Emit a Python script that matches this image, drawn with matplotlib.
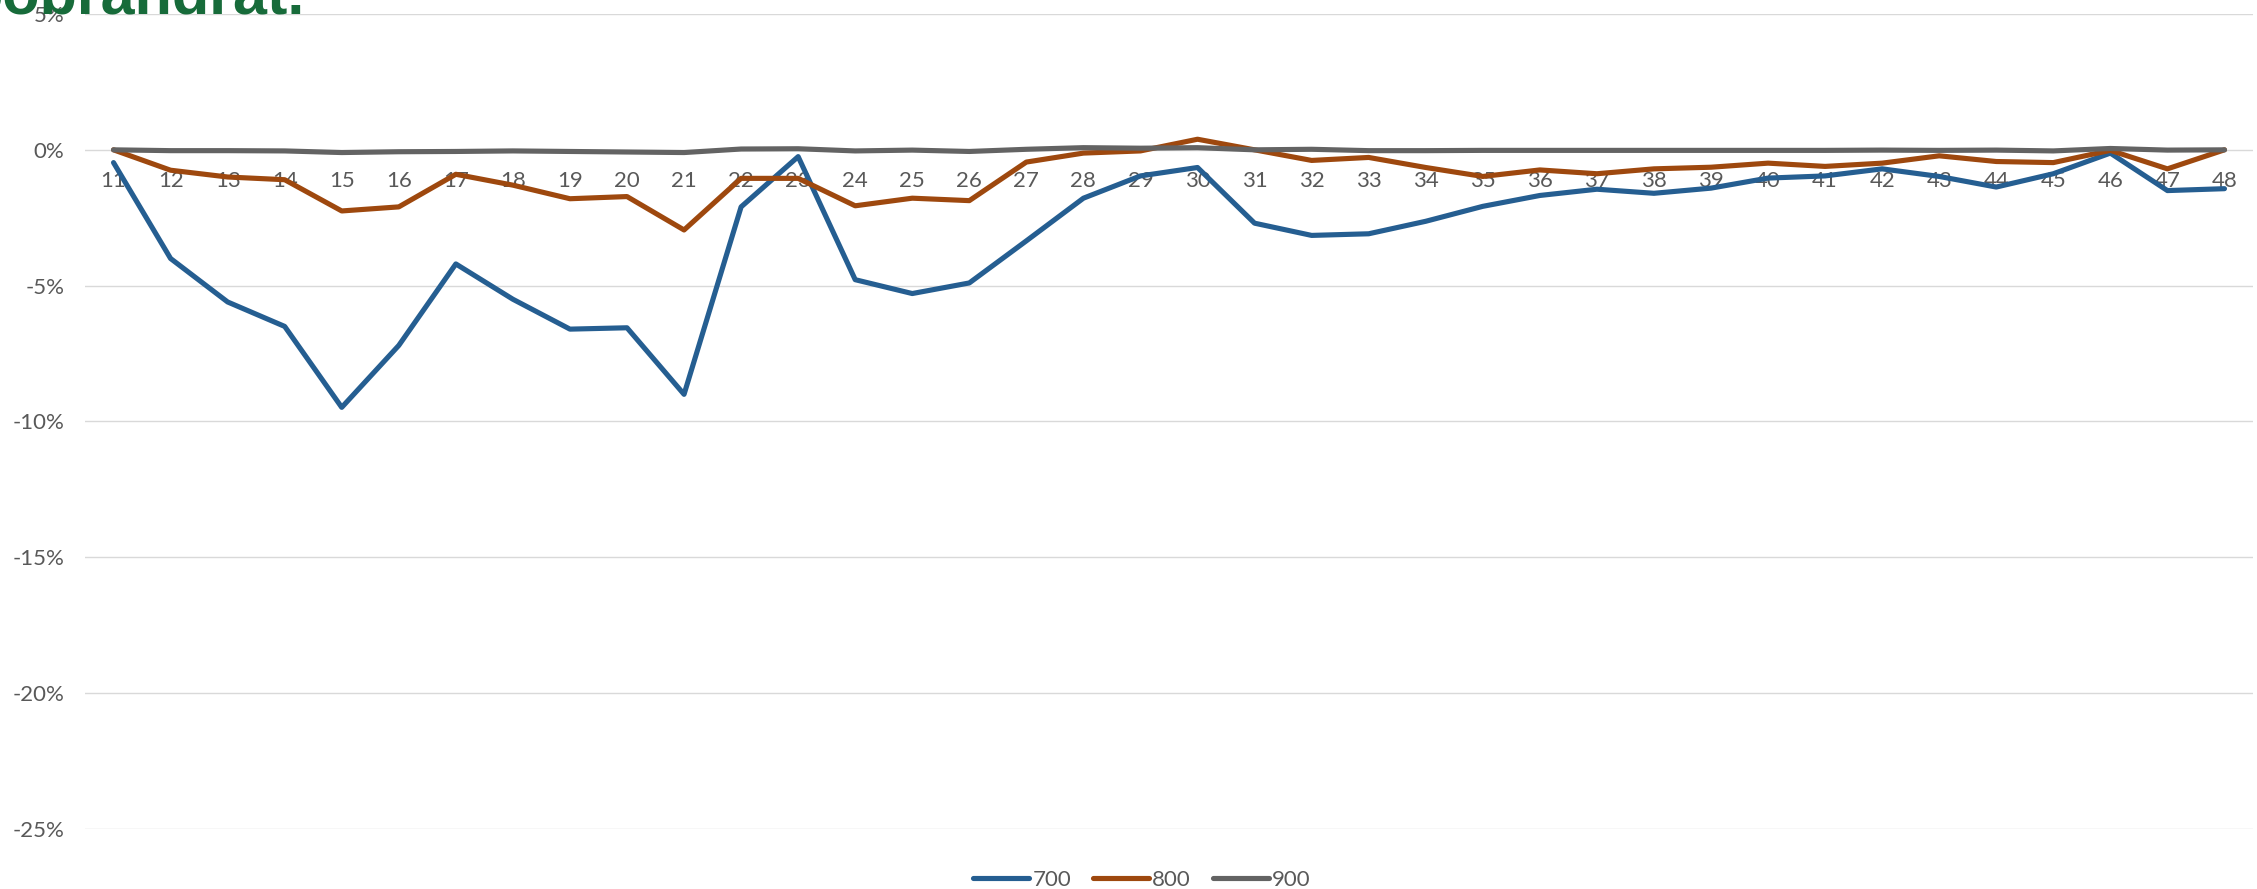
import matplotlib
matplotlib.use("Agg")
import matplotlib.pyplot as plt
from matplotlib.ticker import FuncFormatter

# ---- data (percent) ----
categories = [str(c) for c in range(11, 49)]
s700 = [-0.47, -4.0, -5.6, -6.5, -9.48, -7.2, -4.2, -5.5, -6.6, -6.55, -9.0, -2.1, -0.25,
        -4.78, -5.29, -4.9, -3.35, -1.78, -0.96, -0.65, -2.7, -3.15, -3.09, -2.63, -2.08,
        -1.68, -1.45, -1.6, -1.41, -1.04, -0.96, -0.7, -0.98, -1.37, -0.88, -0.12, -1.5, -1.43]
s800 = [0.0, -0.75, -1.0, -1.1, -2.25, -2.1, -0.9, -1.3, -1.8, -1.72, -2.95, -1.05, -1.05,
        -2.06, -1.78, -1.87, -0.45, -0.12, -0.04, 0.39, 0.0, -0.39, -0.28, -0.65, -0.98,
        -0.74, -0.88, -0.7, -0.64, -0.49, -0.61, -0.49, -0.22, -0.43, -0.47, -0.02, -0.7, 0.0]
s900 = [0.0, -0.03, -0.03, -0.04, -0.1, -0.07, -0.06, -0.04, -0.06, -0.08, -0.1, 0.03, 0.04,
        -0.04, -0.01, -0.06, 0.02, 0.08, 0.06, 0.08, 0.0, 0.02, -0.03, -0.03, -0.02,
        -0.02, -0.02, -0.02, -0.02, -0.02, -0.02, -0.01, -0.02, -0.01, -0.04, 0.05, -0.01, 0.0]
series_names = ["700", "800", "900"]
series_colors = ["#255E91", "#9E480E", "#636363"]
y_ticks = [-25, -20, -15, -10, -5, 0, 5]
title_text = "oobrandrat."

W, H = 2257, 889
fig = plt.figure(figsize=(W / 100, H / 100), dpi=100)
ax = fig.add_axes([85 / W, 1 - 829 / H, (2253 - 85) / W, (829 - 14) / H])

x = list(range(len(categories)))
handles = []
for vals, name, col in zip([s700, s800, s900], series_names, series_colors):
    ln, = ax.plot(x, vals, color=col, lw=3.7, label=name, zorder=3,
                  solid_capstyle="round", solid_joinstyle="round")
    handles.append(ln)

ax.set_xlim(-0.5, len(categories) - 0.5)
ax.set_ylim(-25, 5)
ax.set_yticks(y_ticks)
ax.yaxis.set_major_formatter(FuncFormatter(lambda v, p: f"{v:.0f}%"))
ax.set_xticks(x)
ax.set_xticklabels(categories)

for s in ax.spines.values():
    s.set_visible(False)
ax.spines["bottom"].set_position(("data", 0))
ax.grid(axis="y", color="#D9D9D9", lw=1.0)
ax.tick_params(axis="both", length=0, colors="#595959", labelsize=16)
ax.tick_params(axis="x", pad=15)
ax.tick_params(axis="y", pad=15)
for lab in ax.get_xticklabels() + ax.get_yticklabels():
    lab.set_fontfamily("Lato")
ax.xaxis.set_zorder(1)
ax.yaxis.set_zorder(1)

leg = fig.legend(handles=handles, loc="center", bbox_to_anchor=(1142 / W, 1 - 880 / H),
                 ncol=3, frameon=False, handlelength=2.5, handletextpad=0.15,
                 columnspacing=1.0, prop={"family": "Lato", "size": 16})
for t in leg.get_texts():
    t.set_color("#595959")

fig.text(305 / W, 1 - 13 / H, title_text, ha="right", va="baseline",
         fontsize=44, fontweight="bold", color="#176B3A", family="Liberation Sans")

fig.savefig("out.png", dpi=100)
